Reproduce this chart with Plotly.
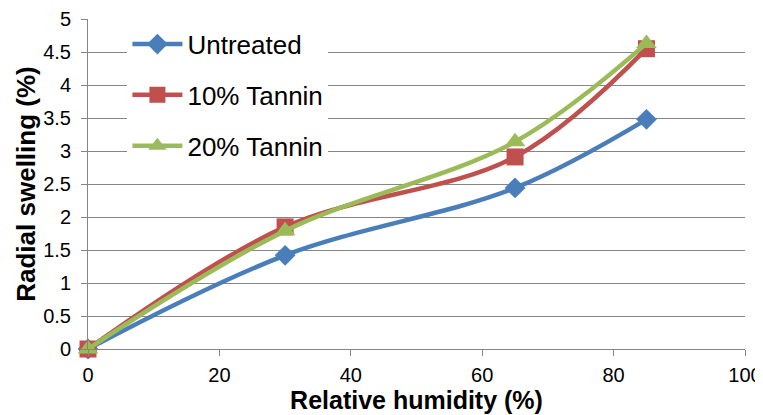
import plotly.graph_objects as go

humidity = [0, 30, 65, 85]
untreated = [0, 1.42, 2.44, 3.48]
tannin10 = [0, 1.85, 2.91, 4.55]
tannin20 = [0, 1.79, 3.14, 4.63]

y_ticks = [0, 0.5, 1, 1.5, 2, 2.5, 3, 3.5, 4, 4.5, 5]
y_ticklabels = ["0", "0.5", "1", "1.5", "2", "2.5", "3", "3.5", "4", "4.5", "5"]
x_ticks = [0, 20, 40, 60, 80, 100]

series = [
    ("Untreated", untreated, "#4A7EBB", "diamond", 16),
    ("10% Tannin", tannin10, "#C0504D", "square", 17),
    ("20% Tannin", tannin20, "#9BBB59", "triangle-up", 18),
]

fig = go.Figure()
for i, (name, ys, color, sym, size) in enumerate(series):
    fig.add_trace(go.Scatter(
        x=humidity, y=ys, name=name, mode="lines+markers",
        line=dict(color=color, width=4.5, shape="spline", smoothing=1),
        marker=dict(symbol=sym, size=size, color=color),
        cliponaxis=False, legendgroup=f"g{i}",
    ))

axis_col = "#868686"
fig.update_layout(
    width=755, height=407,
    margin=dict(l=80, r=18, t=11, b=66),
    paper_bgcolor="white", plot_bgcolor="white",
    font=dict(family="Arial, Liberation Sans, sans-serif", color="black"),
    showlegend=True,
    legend=dict(
        x=0.06, y=0.995, xanchor="left", yanchor="top",
        bgcolor="white", font=dict(size=26),
        tracegroupgap=14, itemwidth=50,
    ),
    xaxis=dict(
        range=[0, 100], tickvals=x_ticks, showgrid=False, automargin=False,
        showline=True, linecolor=axis_col, linewidth=1,
        ticks="outside", ticklen=6, tickcolor=axis_col, ticklabelstandoff=2,
        tickfont=dict(size=20), zeroline=False,
        title=dict(text="<b>Relative humidity (%)</b>", font=dict(size=25), standoff=3),
    ),
    yaxis=dict(
        range=[0, 5], tickvals=y_ticks, ticktext=y_ticklabels, automargin=False,
        showgrid=True, gridcolor=axis_col, gridwidth=1,
        showline=True, linecolor=axis_col, linewidth=1,
        ticks="outside", ticklen=6, tickcolor=axis_col, ticklabelstandoff=6,
        tickfont=dict(size=20), zeroline=False,
        title=dict(text="<b>Radial swelling (%)</b>", font=dict(size=26), standoff=0),
    ),
)

fig.write_html("out.html")
